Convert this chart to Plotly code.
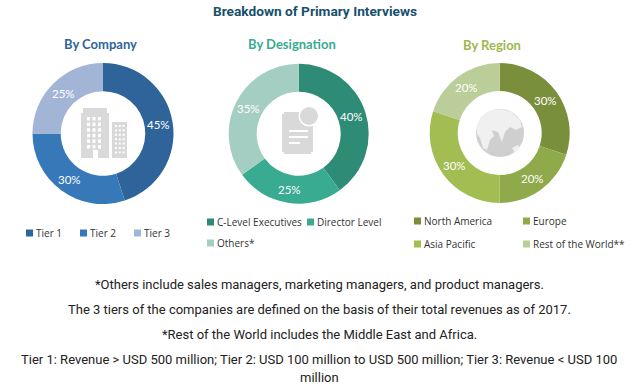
import math
import plotly.graph_objects as go

W, H = 638, 387
TITLE = "Breakdown of Primary Interviews"
company_labels = ["Tier 1", "Tier 2", "Tier 3"]
company_values = [45, 30, 25]
company_colors = ["#2E6499", "#3678B8", "#A3B5D6"]
designation_labels = ["C-Level Executives", "Director Level", "Others*"]
designation_values = [40, 25, 35]
designation_colors = ["#2E8B76", "#38AB91", "#A5CEC2"]
region_labels = ["North America", "Europe", "Asia Pacific", "Rest of the World**"]
region_values = [30, 20, 30, 20]
region_colors = ["#7A8F3C", "#8FAA4A", "#A2BD52", "#BBCD98"]
footnotes = [
    "*Others include sales managers, marketing managers, and product managers.",
    "The 3 tiers of the companies are defined on the basis of their total revenues as of 2017.",
    "*Rest of the World includes the Middle East and Africa.",
    "Tier 1: Revenue > USD 500 million; Tier 2: USD 100 million to USD 500 million; Tier 3: Revenue < USD 100",
    "million",
]
foot_y = [284, 309, 334, 359, 377]
NARROW = "Roboto"
GRAY = "#D9D9D9"
LAND = "#F0F0F0"


def px(x):
    return x / W


def py(y):
    return 1 - y / H


fig = go.Figure()
annotations = []
shapes = []


def text(x, y, s, size, color, family, anchor="center", bold=False):
    annotations.append(dict(
        x=px(x), y=py(y), xref="paper", yref="paper", text=f"<b>{s}</b>" if bold else s,
        showarrow=False, xanchor=anchor, yanchor="middle",
        font=dict(size=size, color=color, family=family),
    ))


def rect(x0, y0, x1, y1, color=GRAY):
    shapes.append(dict(type="rect", xref="paper", yref="paper", x0=px(x0), x1=px(x1),
                       y0=py(y1), y1=py(y0), fillcolor=color, line_width=0))


def circle(cx, cy, r, color=GRAY):
    shapes.append(dict(type="circle", xref="paper", yref="paper", x0=px(cx - r), x1=px(cx + r),
                       y0=py(cy + r), y1=py(cy - r), fillcolor=color, line_width=0))


def blob(points, color):
    path = "M " + " L ".join(f"{px(a):.4f},{py(b):.4f}" for a, b in points) + " Z"
    shapes.append(dict(type="path", xref="paper", yref="paper", path=path, fillcolor=color, line_width=0))


def donut(labels, values, colors, cx, cy, r):
    fig.add_trace(go.Pie(
        labels=labels, values=values, sort=False, direction="clockwise", rotation=0,
        hole=0.6, marker=dict(colors=colors, line=dict(width=0)),
        textinfo="none",
        domain=dict(x=[px(cx - r), px(cx + r)], y=[py(cy + r), py(cy - r)]),
        showlegend=False,
    ))
    total = sum(values)
    running = 0
    for v in values:
        angle = 2 * math.pi * (running + v / 2) / total
        running += v
        text(cx + 0.8 * r * math.sin(angle), cy - 0.8 * r * math.cos(angle), f"{v}%", 11.5, "white", "Lato")


donut(company_labels, company_values, company_colors, 103, 133.5, 70.5)
donut(designation_labels, designation_values, designation_colors, 298.7, 133.7, 70)
donut(region_labels, region_values, region_colors, 499.7, 133, 70)

text(315, 11, TITLE, 13.7, "#17506B", NARROW, bold=True)
text(100, 44, "By Company", 13, "#2E6499", "Lato", bold=True)
text(292, 44, "By Designation", 13, "#38AB91", "Lato", bold=True)
text(492, 45, "By Region", 13, "#9DB84F", "Lato", bold=True)


def legend(x, y, label, color, gap=8):
    rect(x, y - 3.5, x + 7, y + 3.5, color)
    text(x + gap, y, label, 10, "#333333", "Open Sans", anchor="left")


for x, lab, col in zip([26, 80, 134], company_labels, company_colors):
    legend(x, 233, lab, col)
for (x, y), lab, col in zip([(207, 222), (307, 222), (207, 243)], designation_labels, designation_colors):
    legend(x, y, lab, col)
for (x, y), lab, col in zip([(414, 221), (523, 221), (414, 244), (523, 244)], region_labels, region_colors):
    legend(x, y, lab, col)

for s, y in zip(footnotes, foot_y):
    text(319, y, s, 13, "#222222", NARROW)

# Building icon (decorative)
rect(81, 113, 109, 158)
rect(83, 108, 107, 113)
rect(112, 122, 127, 158)
for row in range(6):
    for col in range(3):
        rect(87 + col * 5.5, 117 + row * 5.6, 90 + col * 5.5, 120.5 + row * 5.6, "#FFFFFF")
for row in range(7):
    for col in range(3):
        rect(115 + col * 3.8, 125 + row * 4.4, 117 + col * 3.8, 127 + row * 4.4, "#FFFFFF")
rect(93, 150, 98, 158, "#FFFFFF")

# Document icon (decorative)
rect(282, 114, 313, 152)
rect(284, 112, 311, 154)
circle(309, 116, 10.5, "#FFFFFF")
circle(309, 116, 9)
rect(289, 130, 308, 132, "#FFFFFF")
rect(289, 136, 308, 138, "#FFFFFF")
rect(289, 142, 300, 144, "#FFFFFF")

# Globe icon (decorative)
circle(500, 133, 24, "#CFCFCF")
blob([(480, 118), (488, 111), (500, 109), (512, 112), (520, 120), (522, 127), (516, 130), (510, 127),
      (505, 132), (502, 142), (498, 132), (492, 130), (494, 136), (490, 140), (487, 150), (483, 148),
      (480, 138), (477, 134), (477, 126)], LAND)
blob([(512, 148), (518, 145), (520, 149), (515, 153)], LAND)

fig.update_layout(
    width=W, height=H, margin=dict(l=0, r=0, t=0, b=0), paper_bgcolor="white",
    annotations=annotations, shapes=shapes,
)
fig.write_html("out.html", post_script="document.body.style.margin='0';", config={"displayModeBar": False})
